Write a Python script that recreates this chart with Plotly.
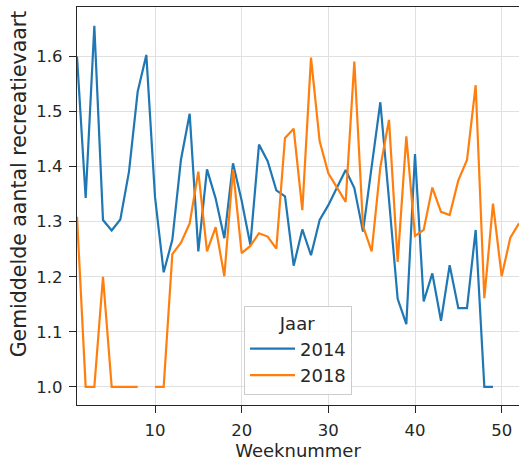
import plotly.graph_objects as go

weeks_2014 = list(range(1, 50))
values_2014 = [1.60, 1.343, 1.656, 1.303, 1.284, 1.304, 1.391, 1.536, 1.603, 1.345,
               1.208, 1.267, 1.413, 1.496, 1.246, 1.395, 1.342, 1.270, 1.406, 1.338,
               1.258, 1.440, 1.410, 1.357, 1.346, 1.220, 1.286, 1.239, 1.303, 1.330,
               1.362, 1.394, 1.361, 1.282, 1.400, 1.517, 1.340, 1.160, 1.114, 1.423,
               1.155, 1.206, 1.120, 1.221, 1.143, 1.143, 1.285, 1.0, 1.0]

weeks_2018 = list(range(1, 53))
values_2018 = [1.309, 1.0, 1.0, 1.20, 1.0, 1.0, 1.0, 1.0, None, 1.0,
               1.0, 1.241, 1.262, 1.297, 1.391, 1.246, 1.290, 1.201, 1.395, 1.243,
               1.256, 1.279, 1.273, 1.251, 1.452, 1.469, 1.321, 1.598, 1.446, 1.388,
               1.363, 1.336, 1.591, 1.292, 1.246, 1.399, 1.485, 1.227, 1.455, 1.274,
               1.285, 1.362, 1.318, 1.312, 1.375, 1.412, 1.548, 1.161, 1.333, 1.201,
               1.271, 1.297]

series_names = ["2014", "2018"]
colors = ["#1f77b4", "#ff7f0e"]
x_ticks = [10, 20, 30, 40, 50]
y_ticks = [1.0, 1.1, 1.2, 1.3, 1.4, 1.5, 1.6]

fig = go.Figure()
for name, xs, ys, c in zip(series_names, [weeks_2014, weeks_2018],
                           [values_2014, values_2018], colors):
    fig.add_trace(go.Scatter(x=xs, y=ys, mode="lines", name=name,
                             line=dict(color=c, width=2.2), connectgaps=False))

font_family = "DejaVu Sans"
axis_common = dict(showline=True, linecolor="#262626", linewidth=1.3, mirror=True,
                   ticks="outside", ticklen=7, tickwidth=1.2, tickcolor="#262626",
                   showgrid=True, gridcolor="#e0e0e0", gridwidth=1, zeroline=False,
                   automargin=False, ticklabelstandoff=3,
                   tickfont=dict(family=font_family, size=16.5, color="#262626"))

fig.update_xaxes(range=[1, 52], tickvals=x_ticks,
                 title=dict(text="Weeknummer", standoff=5,
                            font=dict(family=font_family, size=18, color="#262626")),
                 **axis_common)
fig.update_yaxes(range=[0.967, 1.69], tickvals=y_ticks, tickformat=".1f",
                 **axis_common)

fig.add_annotation(text="Gemiddelde aantal recreatievaart", textangle=-90,
                   xref="paper", yref="paper", x=-0.132, y=0.556,
                   xanchor="center", yanchor="middle", showarrow=False,
                   font=dict(family=font_family, size=20.5, color="#262626"))

fig.update_layout(
    width=519, height=463,
    margin=dict(l=77, r=0, t=7, b=58, autoexpand=False),
    plot_bgcolor="white", paper_bgcolor="white",
    font=dict(family=font_family, color="#262626"),
    legend=dict(x=0.5, y=0.025, xanchor="center", yanchor="bottom",
                bgcolor="rgba(255,255,255,0.85)", bordercolor="#cccccc", borderwidth=1,
                itemwidth=45,
                font=dict(family=font_family, size=18, color="#262626"),
                title=dict(text="Jaar", side="top center",
                           font=dict(family=font_family, size=18, color="#262626"))),
    showlegend=True,
)

fig.write_html("out.html", config={"displayModeBar": False},
               post_script="document.body.style.margin='0';document.body.style.overflow='hidden';")
